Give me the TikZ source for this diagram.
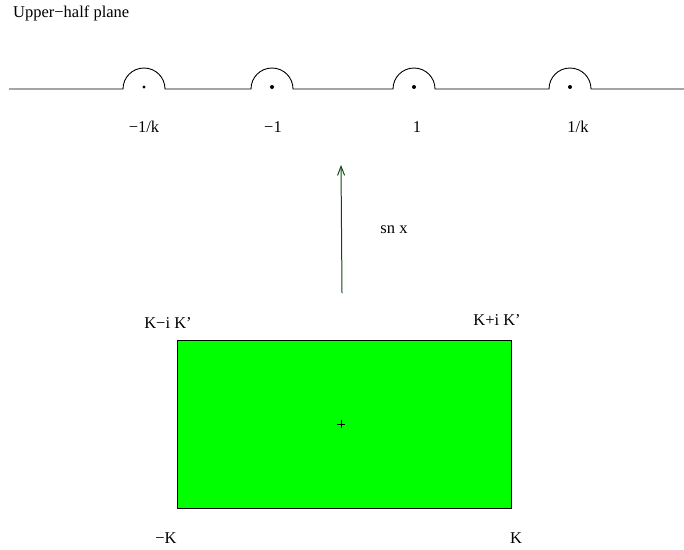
\documentclass[tikz,border=0pt]{standalone}
\usepackage{fontspec}
\setmainfont{Liberation Serif}
\usetikzlibrary{positioning, arrows.meta}
\definecolor{figgreen}{RGB}{0,255,0}
\definecolor{arrowgreen}{RGB}{20,70,20}
\tikzset{
    lbl/.style={font=\fontsize{16.5}{19}\selectfont, inner sep=0pt},
    pole/.style={circle, fill=black, inner sep=0pt, minimum size=4pt},
    axis/.style={line width=0.9pt},
    snarrow/.style={-{Straight Barb[length=9pt, width=7pt]}, line width=1pt, color=arrowgreen},
    cellbox/.style={rectangle, draw=black, fill=figgreen, line width=0.9pt, minimum width=334pt, minimum height=168pt, inner sep=0pt}
}

\begin{document}
\begin{tikzpicture}[x=1pt, y=-1pt]
        \useasboundingbox (0,0) rectangle (684,549);

        % Title
        \node[lbl, anchor=base west] (title) at (13,17) {Upper−half plane};

        % Poles on the real axis
        \node[pole, minimum size=3.2pt] (pa) at (144,87) {};
        \node[pole] (pb) at (272,87) {};
        \node[pole] (pc) at (414,87) {};
        \node[pole] (pd) at (570,87) {};

        % Real axis with half-circle indentations
        \draw[axis] (9,89) -- (123,89) arc[start angle=180, end angle=360, radius=21]
            -- (251,89) arc[start angle=180, end angle=360, radius=21]
            -- (393,89) arc[start angle=180, end angle=360, radius=21]
            -- (549,89) arc[start angle=180, end angle=360, radius=21]
            -- (684,89);

        % Pole labels
        \node[lbl] (la) at (144,127) {−1/k};
        \node[lbl] (lb) at (273,127) {−1};
        \node[lbl] (lc) at (417,127) {1};
        \node[lbl] (ld) at (578,127) {1/k};

        % Mapping arrow
        \coordinate (snbot) at (342,293);
        \coordinate (sntop) at (341,165);
        \draw[snarrow] (snbot) -- (sntop);
        \node[lbl] (snlabel) at (394,230) {sn x};

        % Period rectangle
        \node[cellbox] (cell) at (344,424) {};
        \draw[line width=0.7pt] ([xshift=-7pt]cell.center) -- ([xshift=1pt]cell.center);
        \draw[line width=0.7pt] ([shift={(-3pt,-4pt)}]cell.center) -- ([shift={(-3pt,4pt)}]cell.center);

        % Corner labels
        \node[lbl] (tl) at (168,323) {K−i K’};
        \node[lbl] (tr) at (497,320) {K+i K’};
        \node[lbl] (bl) at (166,538) {−K};
        \node[lbl] (br) at (516,538) {K};
\end{tikzpicture}
\end{document}
